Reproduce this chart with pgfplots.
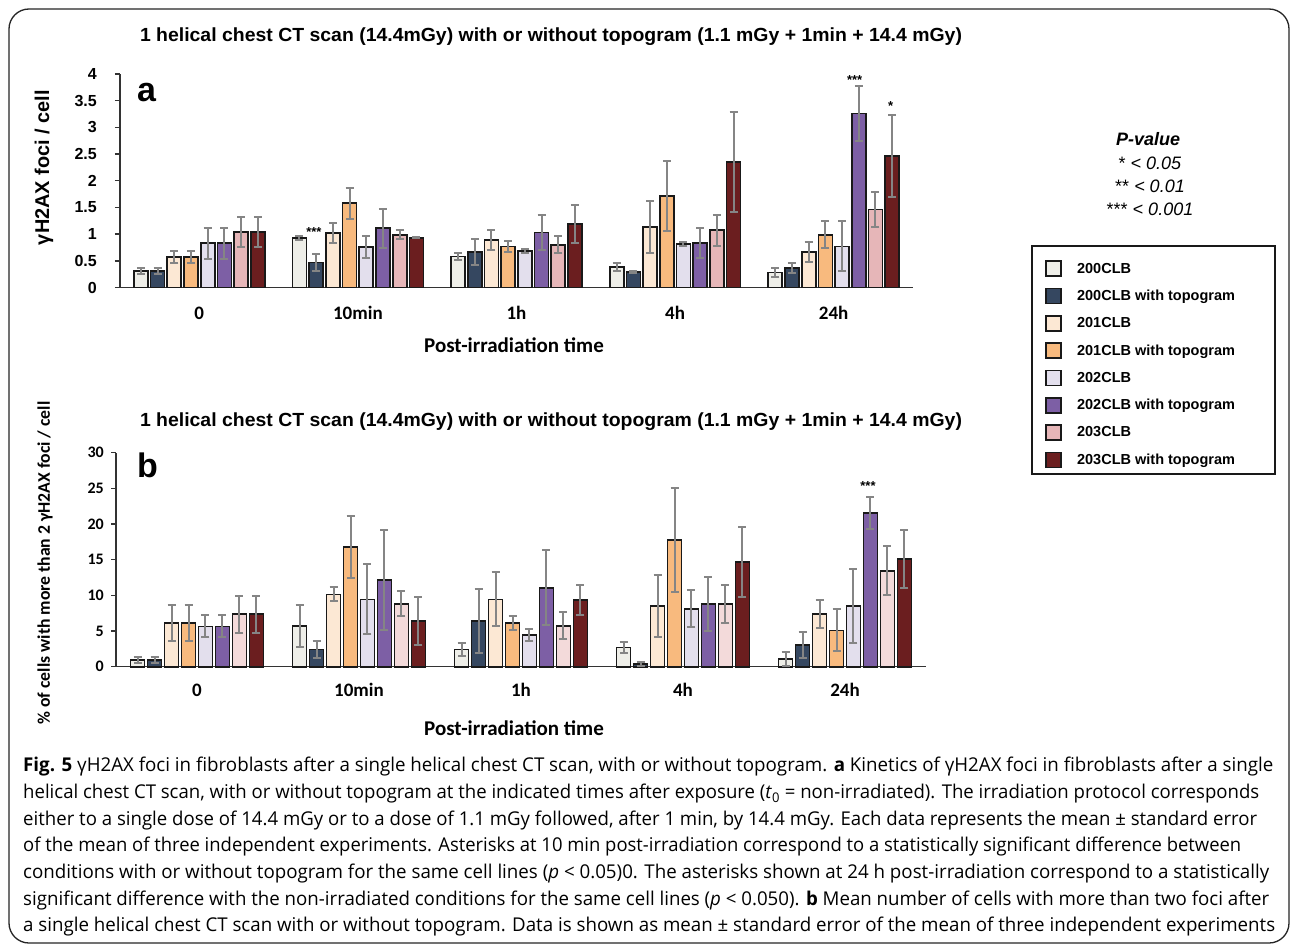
\documentclass[border=0pt]{standalone}
\usepackage{pgfplots}
\pgfplotsset{compat=1.18}
\usepackage{pgfplotstable}
\usepackage{graphicx}
\usepackage{fontspec}
\setmainfont{Liberation Sans}
\newfontfamily\calibri{Carlito}
\newfontfamily\osans{Open Sans}

\definecolor{cA}{HTML}{EEEEE8}
\definecolor{cB}{HTML}{354760}
\definecolor{cC}{HTML}{FCE8D4}
\definecolor{cD}{HTML}{F8BA7E}
\definecolor{cE}{HTML}{E3DFED}
\definecolor{cF}{HTML}{7D5FA5}
\definecolor{cG}{HTML}{E6B6B8}
\definecolor{cGb}{HTML}{F3DADA}
\definecolor{cH}{HTML}{6B1E1F}
\definecolor{errc}{HTML}{858585}

\pgfplotstableread{
x a ea b eb c ec d ed e ee f ef g eg h eh
0 0.31 0.05 0.31 0.05 0.57 0.12 0.57 0.12 0.83 0.29 0.83 0.29 1.04 0.29 1.04 0.29
1 0.93 0.04 0.47 0.16 1.02 0.19 1.58 0.29 0.76 0.20 1.11 0.37 0.99 0.09 0.93 0.01
2 0.58 0.06 0.66 0.24 0.89 0.19 0.77 0.10 0.68 0.04 1.03 0.33 0.80 0.16 1.19 0.35
3 0.38 0.08 0.29 0.02 1.14 0.49 1.71 0.66 0.81 0.04 0.84 0.28 1.075 0.29 2.35 0.94
4 0.28 0.09 0.37 0.09 0.67 0.19 0.99 0.25 0.77 0.47 3.26 0.52 1.46 0.33 2.47 0.77
}\tA

\pgfplotstableread{
x a ea b eb c ec d ed e ee f ef g eg h eh
0 0.93 0.47 0.93 0.47 6.12 2.50 6.12 2.50 5.65 1.55 5.65 1.55 7.34 2.60 7.34 2.60
1 5.75 2.95 2.43 1.17 10.14 0.98 16.80 4.30 9.44 4.90 12.15 6.95 8.83 1.78 6.40 3.37
2 2.43 0.89 6.40 4.44 9.44 3.80 6.12 0.94 4.49 0.84 11.07 5.23 5.75 1.87 9.39 2.10
3 2.71 0.79 0.37 0.28 8.50 4.40 17.80 7.30 8.13 2.60 8.79 3.80 8.79 2.60 14.70 4.86
4 1.07 0.98 3.04 1.78 7.38 1.92 5.09 2.95 8.50 5.23 21.50 2.24 13.46 3.46 15.10 4.07
}\tB

\pgfplotsset{
  eb/.style={error bars/.cd, y dir=both, y explicit,
    error bar style={errc, line width=2pt},
    error mark options={errc, line width=2pt, mark size=4pt, rotate=90}},
  barax/.style={
    scale only axis, anchor=south west,
    xmin=-0.5, xmax=4.5, ymin=0,
    bar width=14pt,
    axis lines*=left,
    axis line style={line width=1.4pt, black!80},
    xtick={0,...,4}, xticklabels={0,10min,1h,4h,24h},
    x tick style={draw=none},
    tick align=outside, major tick length=5pt,
    y tick style={line width=1.4pt, black!80},
    clip=false,
    /pgf/number format/assume math mode=true,
    xticklabel style={font=\calibri\bfseries\fontsize{19}{19}\selectfont, anchor=base, inner sep=0pt},
    every axis plot/.append style={draw=black!90, line width=1.7pt},
  },
}

\begin{document}
\begin{tikzpicture}
\useasboundingbox (0pt,0pt) rectangle (1292pt,-947pt);
\fill[white] (0pt,0pt) rectangle (1292pt,-947pt);

% ---------- panel a ----------
\begin{axis}[barax, at={(120pt,-287.5pt)}, width=793pt, height=213.5pt,
  ybar=2.7pt, ymax=4, ytick distance=0.5,
  yticklabel style={font=\bfseries\fontsize{16}{16}\selectfont, anchor=east, inner sep=0pt, xshift=-18pt},
  xticklabel style={yshift=-26.5pt},
  every axis plot post/.append style={legend image code/.code={\draw[##1, line width=1.7pt, draw=black!90] (0pt,-7.5pt) rectangle (15pt,7.5pt);}},
  legend style={at={(1.1667,0.1279)}, anchor=north west, draw=none, fill=none, inner sep=0pt,
    row sep=10.6pt, font=\bfseries\fontsize{14.5}{15}\selectfont,
    nodes={inner sep=0pt, anchor=west},
    /tikz/every odd column/.append style={column sep=15pt}},
  legend cell align=left]
\addplot[fill=cA, eb] table[x=x, y=a, y error=ea]{\tA};
\addplot[fill=cB, eb] table[x=x, y=b, y error=eb]{\tA};
\addplot[fill=cC, eb] table[x=x, y=c, y error=ec]{\tA};
\addplot[fill=cD, eb] table[x=x, y=d, y error=ed]{\tA};
\addplot[fill=cE, eb] table[x=x, y=e, y error=ee]{\tA};
\addplot[fill=cF, eb] table[x=x, y=f, y error=ef]{\tA};
\addplot[fill=cG, eb] table[x=x, y=g, y error=eg]{\tA};
\addplot[fill=cH, eb] table[x=x, y=h, y error=eh]{\tA};
\legend{200CLB, 200CLB with topogram, 201CLB, 201CLB with topogram, 202CLB, 202CLB with topogram, 203CLB, 203CLB with topogram}
\node[font=\bfseries\fontsize{13}{13}\selectfont, anchor=base, inner sep=0pt, xshift=-44pt, yshift=-7pt] at (axis cs:1,1.096) {***};
\node[font=\bfseries\fontsize{13}{13}\selectfont, anchor=base, inner sep=0pt, xshift=21pt, yshift=-7pt] at (axis cs:4,3.93) {***};
\node[font=\bfseries\fontsize{13}{13}\selectfont, anchor=base, inner sep=0pt, xshift=57pt, yshift=-7pt] at (axis cs:4,3.45) {*};
\end{axis}

% ---------- panel b ----------
\begin{axis}[barax, at={(116pt,-666.7pt)}, width=810pt, height=214pt,
  ybar=2.96pt, ymax=30, ytick distance=5,
  yticklabel style={font=\calibri\bfseries\fontsize{16}{16}\selectfont, anchor=east, inner sep=0pt, xshift=-7pt},
  xticklabel style={yshift=-24.5pt}]
\addplot[fill=cA, eb] table[x=x, y=a, y error=ea]{\tB};
\addplot[fill=cB, eb] table[x=x, y=b, y error=eb]{\tB};
\addplot[fill=cC, eb] table[x=x, y=c, y error=ec]{\tB};
\addplot[fill=cD, eb] table[x=x, y=d, y error=ed]{\tB};
\addplot[fill=cE, eb] table[x=x, y=e, y error=ee]{\tB};
\addplot[fill=cF, eb] table[x=x, y=f, y error=ef]{\tB};
\addplot[fill=cGb, eb] table[x=x, y=g, y error=eg]{\tB};
\addplot[fill=cH, eb] table[x=x, y=h, y error=eh]{\tB};
\node[font=\bfseries\fontsize{13}{13}\selectfont, anchor=base, inner sep=0pt, xshift=23pt, yshift=-7pt] at (axis cs:4,25.75) {***};
\end{axis}

\begin{scope}[x=1pt, y=-1pt]
\draw[line width=1.3pt, black!85, rounded corners=20pt] (9,9) rectangle (1289,943);
% titles
\node[anchor=base, inner sep=0pt] at (551,42) {\resizebox{822pt}{\height}{\bfseries\fontsize{19}{19}\selectfont 1 helical chest CT scan (14.4mGy) with or without topogram (1.1 mGy + 1min + 14.4 mGy)}};
\node[anchor=base, inner sep=0pt] at (551,426) {\resizebox{822pt}{\height}{\bfseries\fontsize{19}{19}\selectfont 1 helical chest CT scan (14.4mGy) with or without topogram (1.1 mGy + 1min + 14.4 mGy)}};
% panel letters
\node[anchor=base west, inner sep=0pt, font=\bfseries\fontsize{34}{34}\selectfont] at (137,102) {a};
\node[anchor=base west, inner sep=0pt, font=\bfseries\fontsize{34}{34}\selectfont] at (137,477) {b};
% axis labels
\node[rotate=90, inner sep=0pt] at (44,167.5) {\resizebox{155pt}{!}{\bfseries\fontsize{19}{19}\selectfont γH2AX foci / cell}};
\node[rotate=90, inner sep=0pt] at (45,563) {\resizebox{323pt}{!}{\calibri\bfseries\fontsize{17}{17}\selectfont \% of cells with more than 2 γH2AX foci / cell}};
\node[anchor=base, inner sep=0pt, font=\calibri\bfseries\fontsize{21}{21}\selectfont] at (514,352) {Post-irradiation time};
\node[anchor=base, inner sep=0pt, font=\calibri\bfseries\fontsize{21}{21}\selectfont] at (514,735) {Post-irradiation time};
% p-value block
\node[anchor=base, inner sep=0pt, font=\bfseries\itshape\fontsize{18}{18}\selectfont] at (1148,145) {P-value};
\node[anchor=base, inner sep=0pt, font=\fontsize{18}{18}\selectfont] at (1150,169) {* \textit{< 0.05}};
\node[anchor=base, inner sep=0pt, font=\fontsize{18}{18}\selectfont] at (1150,192) {** \textit{< 0.01}};
\node[anchor=base, inner sep=0pt, font=\fontsize{18}{18}\selectfont] at (1150,215) {*** \textit{< 0.001}};
% legend frame
\draw[line width=2.7pt, black!90] (1032,246) rectangle (1275,474);
% caption
\newcommand\capf{\osans\fontsize{19}{19}\selectfont}
\node[anchor=base west, inner sep=0pt] at (23,771.7) {\resizebox{1250pt}{\height}{\capf\textbf{Fig. 5} γH2AX foci in fibroblasts after a single helical chest CT scan, with or without topogram. \textbf{a} Kinetics of γH2AX foci in fibroblasts after a single}};
\node[anchor=base west, inner sep=0pt] at (23,798.4) {\resizebox{1236pt}{\height}{\capf helical chest CT scan, with or without topogram at the indicated times after exposure (\textit{t}\textsubscript{0} = non-irradiated). The irradiation protocol corresponds}};
\node[anchor=base west, inner sep=0pt] at (23,825.1) {\resizebox{1234pt}{\height}{\capf either to a single dose of 14.4 mGy or to a dose of 1.1 mGy followed, after 1 min, by 14.4 mGy. Each data represents the mean ± standard error}};
\node[anchor=base west, inner sep=0pt] at (23,851.7) {\resizebox{1218pt}{\height}{\capf of the mean of three independent experiments. Asterisks at 10 min post-irradiation correspond to a statistically significant difference between}};
\node[anchor=base west, inner sep=0pt] at (23,878.4) {\resizebox{1246pt}{\height}{\capf conditions with or without topogram for the same cell lines (\textit{p} < 0.05)0. The asterisks shown at 24 h post-irradiation correspond to a statistically}};
\node[anchor=base west, inner sep=0pt] at (23,905.1) {\resizebox{1246pt}{\height}{\capf significant difference with the non-irradiated conditions for the same cell lines (\textit{p} < 0.050). \textbf{b} Mean number of cells with more than two foci after}};
\node[anchor=base west, inner sep=0pt] at (23,931.7) {\resizebox{1252pt}{\height}{\capf a single helical chest CT scan with or without topogram. Data is shown as mean ± standard error of the mean of three independent experiments}};
\end{scope}
\end{tikzpicture}
\end{document}
